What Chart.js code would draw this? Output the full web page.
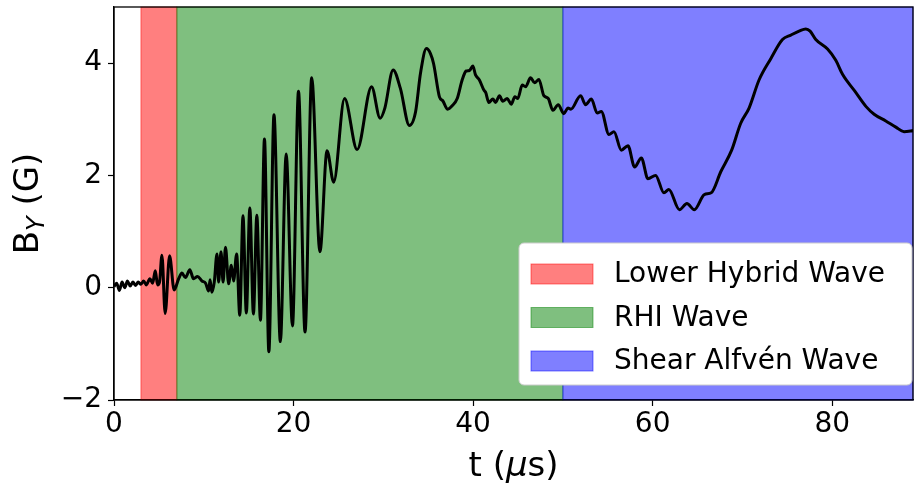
<!DOCTYPE html>
<html>
<head>
<meta charset="utf-8">
<script src="https://cdn.jsdelivr.net/npm/chart.js@4.4.0/dist/chart.umd.min.js"></script>
<style>
  body { margin: 0; background: #fff; }
  #wrap { width: 915px; height: 490px; }
</style>
</head>
<body>
<div id="wrap"><canvas id="byChart" width="915" height="490"></canvas></div>
<script>
// time (microseconds) and B_Y (gauss)
const tUs = [
  0.0, 0.3, 0.6, 0.9, 1.2, 1.5, 1.8, 2.1, 2.4, 2.7, 3.0, 3.3, 3.6, 4.0, 4.3, 4.6, 4.85, 5.07,
  5.34, 5.7, 6.19, 6.7, 7.2, 7.57, 7.95, 8.45, 8.85, 9.3, 9.8, 10.2, 10.54, 10.7, 10.9, 11.17,
  11.47, 11.65, 11.92, 12.15, 12.42, 12.77, 13.07, 13.32, 13.66, 14.01, 14.37, 14.74, 15.13,
  15.53, 15.91, 16.31, 16.76, 17.25, 17.82, 18.53, 19.18, 19.88, 20.55, 21.28, 22.02, 22.94,
  23.73, 24.47, 25.68, 27.08, 28.69, 29.64, 30.17, 31.09, 31.9, 32.9, 33.6, 34.14, 34.8, 35.25,
  35.6, 36.25, 36.62, 37.18, 37.67, 38.23, 38.78, 39.23, 39.6, 39.97, 40.27, 40.7, 41.2, 41.4,
  41.75, 42.2, 42.5, 42.94, 43.3, 43.8, 44.25, 44.65, 44.98, 45.47, 45.85, 46.4, 46.85, 47.33,
  47.88, 48.37, 48.89, 49.48, 50.1, 50.56, 50.9, 51.97, 52.53, 53.17, 53.83, 54.28, 55.13,
  55.69, 56.51, 57.25, 57.99, 58.74, 59.48, 60.33, 61.26, 61.8, 62.98, 63.82, 64.64, 65.76,
  66.52, 67.6, 68.8, 69.81, 70.74, 71.85, 73.16, 74.46, 75.39, 76.31, 77.06, 77.54, 78.17,
  79.48, 80.4, 81.15, 82.52, 83.75, 84.67, 85.97, 87.09, 88.0, 89.1
];
const byG = [
  0.02, 0.08, -0.05, 0.1, 0.0, 0.12, 0.03, 0.1, 0.04, 0.1, 0.06, 0.12, 0.05, 0.16, 0.08, 0.3, 0.05, 0.1,
  0.58, -0.46, 0.57, -0.04, 0.16, 0.26, 0.18, 0.32, 0.16, 0.2, 0.12, 0.08, -0.06, 0.14, -0.08, 0.1,
  0.6, 0.1, 0.64, 0.1, 0.72, 0.07, 0.4, 0.12, 0.6, -0.49, 1.28, -0.45, 1.42,
  -0.47, 1.29, -0.58, 2.65, -1.14, 3.08, -0.96, 2.38, -0.68, 3.5, -0.79, 3.74, 0.64,
  2.44, 1.88, 3.37, 2.46, 3.58, 3.02, 3.2, 3.88, 3.55, 2.89, 3.14, 3.82, 4.26, 4.17,
  3.99, 3.4, 3.33, 3.18, 3.24, 3.37, 3.7, 3.86, 3.87, 3.95, 3.79, 3.7, 3.52, 3.48,
  3.3, 3.36, 3.3, 3.42, 3.32, 3.37, 3.27, 3.4, 3.37, 3.61, 3.58, 3.74, 3.65, 3.71,
  3.42, 3.37, 3.16, 3.26, 3.1, 3.2, 3.18, 3.42, 3.26, 3.36, 3.11, 3.14, 2.73,
  2.78, 2.45, 2.53, 2.15, 2.31, 1.94, 2.0, 1.69, 1.75, 1.39, 1.5, 1.39, 1.66,
  1.69, 2.07, 2.45, 2.93, 3.2, 3.7, 4.08, 4.42, 4.5, 4.57, 4.61, 4.57, 4.42,
  4.25, 4.05, 3.8, 3.5, 3.23, 3.09, 2.97, 2.86, 2.78, 2.8
];

// shaded wave regions
const bandNames = ["Lower Hybrid Wave", "RHI Wave", "Shear Alfvén Wave"];
const bandStart = [3, 7, 50];
const bandEnd = [7, 50, 89];
const bandColors = ["rgba(255,0,0,0.5)", "rgba(0,128,0,0.5)", "rgba(0,0,255,0.5)"];

const xTicks = [0, 20, 40, 60, 80];
const yTicks = [-2, 0, 2, 4];

const FONT = "'DejaVu Sans', sans-serif";

const bandPlugin = {
  id: "bands",
  beforeDatasetsDraw(chart) {
    const { ctx, chartArea, scales: { x } } = chart;
    ctx.save();
    ctx.lineWidth = 1;
    bandStart.forEach((s, i) => {
      const x0 = x.getPixelForValue(s);
      const x1 = x.getPixelForValue(Math.min(bandEnd[i], x.max));
      ctx.fillStyle = bandColors[i];
      ctx.fillRect(x0, chartArea.top, x1 - x0, chartArea.bottom - chartArea.top);
      ctx.strokeStyle = bandColors[i];
      ctx.strokeRect(x0, chartArea.top, x1 - x0, chartArea.bottom - chartArea.top);
    });
    ctx.restore();
  },
  afterDraw(chart) {
    const { ctx, chartArea } = chart;
    ctx.save();
    // frame (all four spines)
    ctx.strokeStyle = "#000";
    ctx.lineWidth = 1.3;
    ctx.strokeRect(chartArea.left, chartArea.top, chartArea.right - chartArea.left, chartArea.bottom - chartArea.top);

    // axis titles
    ctx.fillStyle = "#000";
    ctx.textBaseline = "alphabetic";
    const cx = (chartArea.left + chartArea.right) / 2;
    const parts = [["t (", "34px " + FONT], ["μ", "italic 34px " + FONT], ["s)", "34px " + FONT]];
    let w = 0;
    parts.forEach(p => { ctx.font = p[1]; w += ctx.measureText(p[0]).width; });
    let px = cx - w / 2;
    parts.forEach(p => { ctx.font = p[1]; ctx.fillText(p[0], px, 476); px += ctx.measureText(p[0]).width; });

    ctx.save();
    ctx.translate(38, (chartArea.top + chartArea.bottom) / 2);
    ctx.rotate(-Math.PI / 2);
    const yParts = [["B", "34px " + FONT, 0], ["Y", "italic 24px " + FONT, 6], [" (G)", "34px " + FONT, 0]];
    w = 0;
    yParts.forEach(p => { ctx.font = p[1]; w += ctx.measureText(p[0]).width; });
    px = -w / 2;
    yParts.forEach(p => { ctx.font = p[1]; ctx.fillText(p[0], px, p[2]); px += ctx.measureText(p[0]).width; });
    ctx.restore();

    // legend
    const lx = 519, ly = 243, lw = 393, lh = 142;
    ctx.fillStyle = "#ffffff";
    ctx.strokeStyle = "#cccccc";
    ctx.lineWidth = 1;
    ctx.beginPath();
    ctx.roundRect(lx, ly, lw, lh, 5);
    ctx.fill();
    ctx.stroke();
    ctx.font = "28px " + FONT;
    ctx.textBaseline = "middle";
    bandNames.forEach((name, i) => {
      const rowY = 274 + i * 43.5;
      ctx.fillStyle = bandColors[i];
      ctx.fillRect(531, rowY - 10, 62, 20);
      ctx.strokeStyle = bandColors[i];
      ctx.strokeRect(531, rowY - 10, 62, 20);
      ctx.fillStyle = "#000";
      ctx.fillText(name, 614, rowY + 1);
    });
    ctx.restore();
  }
};

new Chart(document.getElementById("byChart"), {
  type: "line",
  data: {
    datasets: [{
      data: tUs.map((t, i) => ({ x: t, y: byG[i] })),
      borderColor: "#000",
      borderWidth: 3,
      pointRadius: 0,
      cubicInterpolationMode: "monotone",
      fill: false
    }]
  },
  options: {
    responsive: false,
    animation: false,
    layout: { padding: { top: 7, right: 2, left: 0, bottom: 0 } },
    plugins: { legend: { display: false }, tooltip: { enabled: false } },
    scales: {
      x: {
        type: "linear",
        min: 0,
        max: 89,
        afterBuildTicks: s => { s.ticks = xTicks.map(v => ({ value: v })); },
        afterFit: s => { s.height = 90; s.paddingLeft = 0; s.paddingRight = 0; },
        grid: { drawOnChartArea: false, drawTicks: true, tickLength: 6, color: "#000", tickWidth: 1.2 },
        border: { display: true, color: "#000", width: 1.3 },
        ticks: { color: "#000", font: { family: FONT, size: 28 }, padding: 2, maxRotation: 0 }
      },
      y: {
        min: -2,
        max: 5,
        afterBuildTicks: s => { s.ticks = yTicks.map(v => ({ value: v })); },
        afterFit: s => { s.width = 114; s.paddingTop = 0; s.paddingBottom = 0; },
        grid: { drawOnChartArea: false, drawTicks: true, tickLength: 6, color: "#000", tickWidth: 1.2 },
        border: { display: true, color: "#000", width: 1.3 },
        ticks: {
          color: "#000", font: { family: FONT, size: 28 }, padding: 6,
          callback: v => (v < 0 ? "\u2212" + Math.abs(v) : String(v))
        }
      }
    }
  },
  plugins: [bandPlugin]
});
</script>
</body>
</html>
